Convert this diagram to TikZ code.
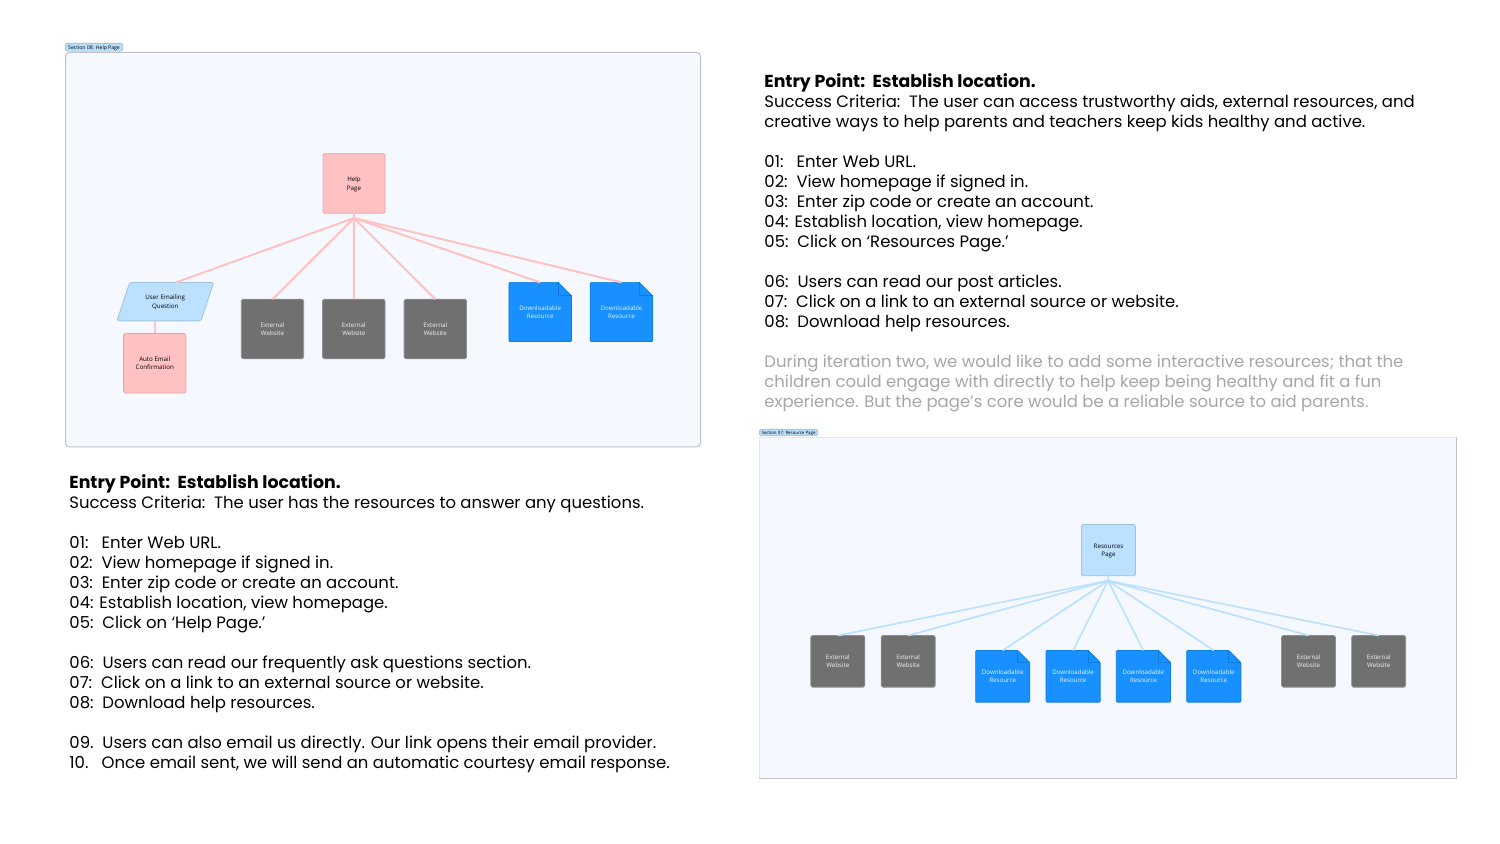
\documentclass[tikz,border=0pt]{standalone}
\usepackage{xcolor}
\usepackage{fontspec}
\setmainfont{Poppins}
\newfontfamily\boxfont{Open Sans}
\usetikzlibrary{shapes.geometric, positioning, calc}
\definecolor{panelfill}{HTML}{F5F9FF}
\definecolor{panelline}{HTML}{BEC2C6}
\definecolor{tagfill}{HTML}{BBDEFB}
\definecolor{tagline}{HTML}{8FB4D0}
\definecolor{pagepink}{HTML}{FFC1C1}
\definecolor{pinkline}{HTML}{DDAAAA}
\definecolor{pageblue}{HTML}{BBE1FF}
\definecolor{blueline}{HTML}{A0C4DE}
\definecolor{extgray}{HTML}{707070}
\definecolor{extline}{HTML}{8C8F92}
\definecolor{docblue}{HTML}{1890FF}
\definecolor{docline}{HTML}{0F7CDC}
\definecolor{notegray}{HTML}{A6A6A6}
\newcommand{\resdoc}[6]{
    \draw[docbody] ({#2-#4/2},{#3-#5/2}) -- ({#2+#4/2-#6},{#3-#5/2}) -- ({#2+#4/2},{#3-#5/2+#6}) -- ({#2+#4/2},{#3+#5/2}) -- ({#2-#4/2},{#3+#5/2}) -- cycle;
    \draw[docfold] ({#2+#4/2-#6},{#3-#5/2}) -- ({#2+#4/2-#6},{#3-#5/2+#6}) -- ({#2+#4/2},{#3-#5/2+#6});
    \node[doctext, minimum width=#4*0.5pt, minimum height=#5*0.5pt] (#1) at (#2,#3) {Downloadable\\Resource};
}
\newcommand{\headline}[1]{{\fontsize{8.67}{10}\selectfont\textbf{#1}}}
\begin{document}
\begin{tikzpicture}[
    x=0.5pt, y=-0.5pt,
    panel/.style={rectangle, rounded corners=2pt, draw=panelline, fill=panelfill, line width=0.5pt, outer sep=0pt},
    flatpanel/.style={rectangle, draw=panelline!45, fill=panelfill, line width=0.3pt, outer sep=0pt},
    sectag/.style={rectangle, rounded corners=0.8pt, draw=tagline, fill=tagfill, line width=0.3pt, inner sep=0pt, text depth=0pt, font=\boxfont\fontsize{2.55}{3}\selectfont, text=black},
    pagebox/.style={rectangle, rounded corners=0.8pt, line width=0.4pt, align=center, inner sep=0pt, outer sep=0pt, text depth=0pt, font=\boxfont\fontsize{3.1}{4.25}\selectfont, text=black},
    pinkbox/.style={pagebox, fill=pagepink, draw=pinkline},
    bluebox/.style={pagebox, fill=pageblue, draw=blueline},
    extbox/.style={pagebox, fill=extgray, draw=extline, text=white!95!black},
    userbox/.style={trapezium, trapezium left angle=62, trapezium right angle=118, trapezium stretches=true, rounded corners=0.8pt,
                    fill=pageblue, draw=blueline, line width=0.4pt, align=center, inner sep=0pt, outer sep=0pt, text depth=0pt, font=\boxfont\fontsize{3.1}{4.25}\selectfont, text=black},
    docbody/.style={fill=docblue, draw=docline, line width=0.35pt, rounded corners=0.5pt},
    docfold/.style={draw=docline, line width=0.5pt},
    doctext/.style={align=center, inner sep=0pt, outer sep=0pt, text depth=0pt, text=white!90!docblue, font=\boxfont\fontsize{3.1}{4.25}\selectfont},
    pinkwire/.style={draw=pagepink, line width=1pt},
    bluewire/.style={draw=pageblue, line width=0.85pt},
    stepblock/.style={anchor=north west, align=left, inner sep=0pt, font=\fontsize{8.24}{10}\selectfont}
]
    \useasboundingbox (0,0) rectangle (1500,844);

    % Help page panel
    \node[panel, minimum width=317.5pt, minimum height=197.25pt] (helppanel) at (383,249.75) {};
    \node[sectag, minimum width=28.7pt, minimum height=3.9pt] (helptag) at (94,47.2) {Section 08: Help Page};

    \coordinate (helpfan) at (354,218);
    \node[pinkbox, minimum width=31pt, minimum height=29.8pt] (helppage) at (354,183.5) {Help\\Page};
    \node[userbox, minimum width=48.4pt, minimum height=19.2pt] (useremail) at (165.3,301.7) {User Emailing\\Question};
    \node[pinkbox, minimum width=31.2pt, minimum height=29.8pt] (autoemail) at (154.8,363.3) {Auto Email\\Confirmation};
    \coordinate (usertop) at ([xshift=5.3pt]useremail.north);
    \foreach \n/\x in {hext1/272.5, hext2/353.8, hext3/435.3} {
        \node[extbox, minimum width=31.2pt, minimum height=29.8pt] (\n) at (\x,329) {External\\Website};
    }
    \resdoc{hdoc1}{540.2}{312}{62.6}{59.2}{13.5}
    \resdoc{hdoc2}{621.5}{312}{62.6}{59.2}{13.5}

    \draw[pinkwire] (helppage.south) -- (helpfan);
    \foreach \n in {hext1, hext2, hext3, hdoc1, hdoc2} {
        \draw[pinkwire] (helpfan) -- (\n.north);
    }
    \draw[pinkwire] (helpfan) -- (usertop);
    \draw[pinkwire] (autoemail.north |- useremail.south) -- (autoemail.north);

    % Resource page panel
    \node[flatpanel, minimum width=348.5pt, minimum height=170.5pt] (respanel) at (1107.5,607.5) {};
    \draw[draw=panelline, line width=0.5pt] (respanel.south west) -- (respanel.south east) -- (respanel.north east);
    \node[sectag, minimum width=29.3pt, minimum height=3.2pt, font=\boxfont\fontsize{2.2}{3}\selectfont] (restag) at (788.6,432.5) {Section 07: Resource Page};

    \coordinate (resfan) at (1108,580.7);
    \node[bluebox, minimum width=27pt, minimum height=25.6pt] (respage) at (1108.5,550.2) {Resources\\Page};
    \foreach \n/\x in {rext1/837.8, rext2/908.2, rext3/1308.5, rext4/1378.7} {
        \node[extbox, minimum width=27pt, minimum height=25.8pt] (\n) at (\x,661.3) {External\\Website};
    }
    \resdoc{rdoc1}{1002.7}{676.3}{54.2}{51.7}{12}
    \resdoc{rdoc2}{1073.1}{676.3}{54.2}{51.7}{12}
    \resdoc{rdoc3}{1143.4}{676.3}{54.2}{51.7}{12}
    \resdoc{rdoc4}{1213.8}{676.3}{54.2}{51.7}{12}

    \draw[bluewire] (respage.south) -- (resfan);
    \foreach \n in {rext1, rext2, rdoc1, rdoc2, rdoc3, rdoc4, rext3, rext4} {
        \draw[bluewire] (resfan) -- (\n.north);
    }

    % Step lists
    \node[stepblock] (helpsteps) at (69,474) {\headline{Entry Point:\ \ Establish location.}\\
        Success Criteria:\ \ The user has the resources to answer any questions.\\
        ~\\
        01:\ \ \ Enter Web URL.\\
        02:\ \ View homepage if signed in.\\
        03:\ \ Enter zip code or create an account.\\
        04: Establish location, view homepage.\\
        05:\ \ Click on ‘Help Page.’\\
        ~\\
        06:\ \ Users can read our frequently ask questions section.\\
        07:\ \ Click on a link to an external source or website.\\
        08:\ \ Download help resources.\\
        ~\\
        09.\ \ Users can also email us directly. Our link opens their email provider.\\
        10.\ \ \ Once email sent, we will send an automatic courtesy email response.};

    \node[stepblock] (ressteps) at (764,73) {\headline{Entry Point:\ \ Establish location.}\\
        Success Criteria:\ \ The user can access trustworthy aids, external resources, and\\
        creative ways to help parents and teachers keep kids healthy and active.\\
        ~\\
        01:\ \ \ Enter Web URL.\\
        02:\ \ View homepage if signed in.\\
        03:\ \ Enter zip code or create an account.\\
        04: Establish location, view homepage.\\
        05:\ \ Click on ‘Resources Page.’\\
        ~\\
        06:\ \ Users can read our post articles.\\
        07:\ \ Click on a link to an external source or website.\\
        08:\ \ Download help resources.\\
        ~\\
        \textcolor{notegray}{During iteration two, we would like to add some interactive resources; that the}\\
        \textcolor{notegray}{children could engage with directly to help keep being healthy and fit a fun}\\
        \textcolor{notegray}{experience. But the page's core would be a reliable source to aid parents.}};
\end{tikzpicture}
\end{document}
